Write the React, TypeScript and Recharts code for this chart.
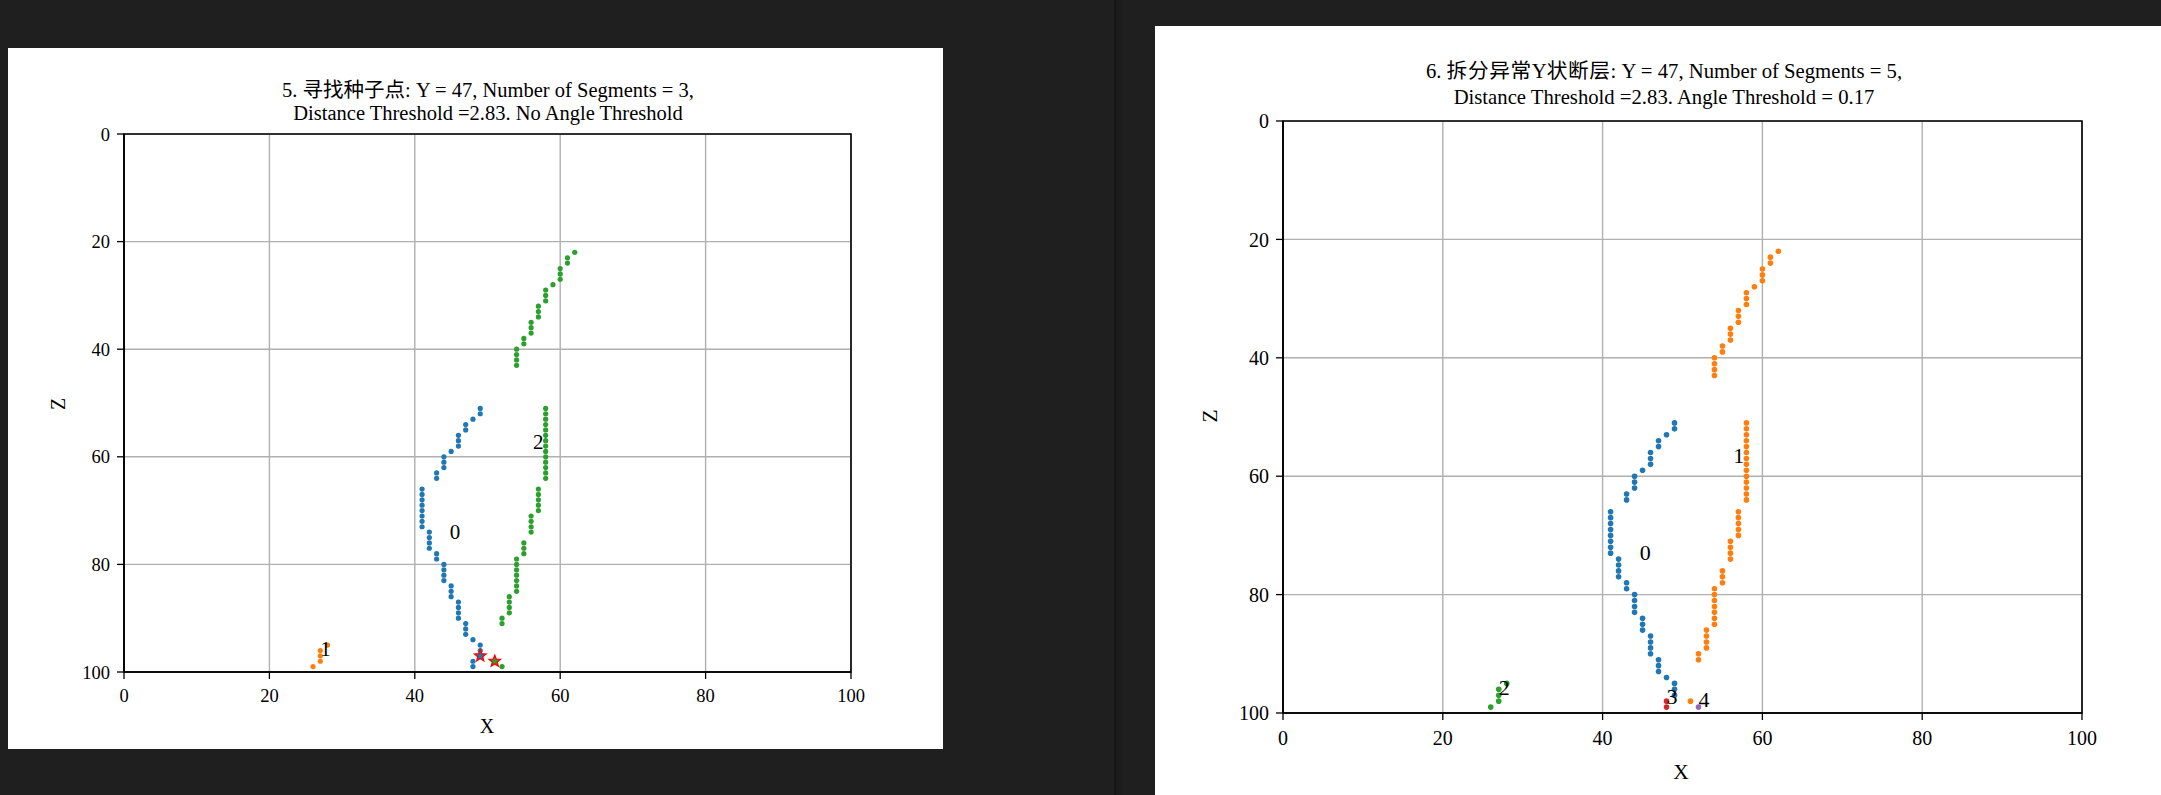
import {
  CartesianGrid,
  ReferenceArea,
  Scatter,
  ScatterChart,
  XAxis,
  YAxis,
} from "recharts";

const ticks = [0, 20, 40, 60, 80, 100];

// [x, z] points of each segment
const seg0: [number, number][] = [
  [49, 51], [49, 52], [48, 53], [47, 54], [47, 55], [46, 56], [46, 57], [46, 58],
  [45, 59], [44, 60], [44, 61], [44, 62], [43, 63], [43, 64],
  [41, 66], [41, 67], [41, 68], [41, 69], [41, 70], [41, 71], [41, 72], [41, 73],
  [42, 74], [42, 75], [42, 76], [42, 77], [43, 78], [43, 79],
  [44, 80], [44, 81], [44, 82], [44, 83], [45, 84], [45, 85], [45, 86],
  [46, 87], [46, 88], [46, 89], [46, 90], [47, 91], [47, 92], [47, 93],
  [48, 94], [49, 95], [49, 96], [49, 97], [48, 98], [48, 99],
];

const seg1: [number, number][] = [
  [26, 99], [27, 98], [27, 97], [27, 96], [28, 95],
];

const seg2: [number, number][] = [
  [62, 22], [61, 23], [61, 24], [60, 25], [60, 26], [60, 27], [59, 28],
  [58, 29], [58, 30], [58, 31], [57, 32], [57, 33], [57, 34],
  [56, 35], [56, 36], [56, 37], [55, 38], [55, 39],
  [54, 40], [54, 41], [54, 42], [54, 43],
  [58, 51], [58, 52], [58, 53], [58, 54], [58, 55], [58, 56], [58, 57],
  [58, 58], [58, 59], [58, 60], [58, 61], [58, 62], [58, 63], [58, 64],
  [57, 66], [57, 67], [57, 68], [57, 69], [57, 70],
  [56, 71], [56, 72], [56, 73], [56, 74],
  [55, 76], [55, 77], [55, 78],
  [54, 79], [54, 80], [54, 81], [54, 82], [54, 83], [54, 84], [54, 85],
  [53, 86], [53, 87], [53, 88], [53, 89], [52, 90], [52, 91],
  [51, 98], [52, 99],
];

// seed points (stars) of panel 5
const seedPoints: [number, number][] = [[49, 97], [51, 98]];
const seedColors = ["#1f77b4", "#2ca02c"];

const C = {
  blue: "#1f77b4",
  orange: "#ff7f0e",
  green: "#2ca02c",
  red: "#d62728",
  purple: "#9467bd",
};

const FONT = "'Liberation Serif', 'Times New Roman', 'Noto Sans CJK SC', serif";

type Series = { label: string; color: string; points: [number, number][] };

const leftSeries: Series[] = [
  { label: "0", color: C.blue, points: seg0 },
  { label: "1", color: C.orange, points: seg1 },
  { label: "2", color: C.green, points: seg2 },
];

const rightSeries: Series[] = [
  { label: "0", color: C.blue, points: seg0.slice(0, -2) },
  { label: "1", color: C.orange, points: seg2.slice(0, -1) },
  { label: "2", color: C.green, points: seg1 },
  { label: "3", color: C.red, points: seg0.slice(-2) },
  { label: "4", color: C.purple, points: seg2.slice(-1) },
];

const toPts = (p: [number, number][]) => p.map(([x, z]) => ({ x, z }));

const mean = (s: Series) => ({
  x: s.points.reduce((a, p) => a + p[0], 0) / s.points.length,
  z: s.points.reduce((a, p) => a + p[1], 0) / s.points.length,
  label: s.label,
});

function starPath(cx: number, cy: number, R: number, r: number) {
  let d = "";
  for (let i = 0; i < 10; i++) {
    const a = -Math.PI / 2 + (i * Math.PI) / 5;
    const rad = i % 2 === 0 ? R : r;
    d += (i === 0 ? "M" : "L") + (cx + rad * Math.cos(a)) + "," + (cy + rad * Math.sin(a));
  }
  return d + "Z";
}

type PanelCfg = {
  w: number;
  h: number;
  margin: { top: number; right: number; bottom: number; left: number };
  tickFont: number;
  labelFont: number;
  tickMargin: number;
  yTickMargin: number;
  r: number;
  series: Series[];
  seeds?: boolean;
};

function Panel({ cfg }: { cfg: PanelCfg }) {
  const axisLine = { stroke: "#000", strokeWidth: 1.6 };
  const tickLine = { stroke: "#000", strokeWidth: 1.3 };
  const tick = { fill: "#000", fontSize: cfg.tickFont, fontFamily: FONT };
  return (
    <ScatterChart width={cfg.w} height={cfg.h} margin={cfg.margin}>
      <CartesianGrid stroke="#b0b0b0" strokeWidth={1.4} />
      <XAxis
        type="number"
        dataKey="x"
        domain={[0, 100]}
        ticks={ticks}
        interval={0}
        height={40}
        tickSize={7}
        tickMargin={cfg.tickMargin}
        axisLine={axisLine}
        tickLine={tickLine}
        tick={tick}
      />
      <YAxis
        type="number"
        dataKey="z"
        domain={[0, 100]}
        ticks={ticks}
        interval={0}
        reversed
        width={60}
        tickSize={7}
        tickMargin={cfg.yTickMargin}
        axisLine={axisLine}
        tickLine={tickLine}
        tick={tick}
      />
      {cfg.series.map((s) => (
        <Scatter
          key={s.label}
          data={toPts(s.points)}
          fill={s.color}
          isAnimationActive={false}
          shape={(p: any) => <circle cx={p.cx} cy={p.cy} r={cfg.r} fill={s.color} />}
        />
      ))}
      {cfg.seeds && (
        <Scatter
          data={seedPoints.map(([x, z], i) => ({ x, z, color: seedColors[i] }))}
          isAnimationActive={false}
          shape={(p: any) => (
            <path
              d={starPath(p.cx, p.cy, 6, 2.6)}
              fill={p.payload.color}
              stroke="#ff0000"
              strokeWidth={1.3}
            />
          )}
        />
      )}
      <Scatter
        data={cfg.series.map(mean)}
        isAnimationActive={false}
        shape={(p: any) => (
          <text x={p.cx} y={p.cy} fontSize={cfg.labelFont} fontFamily={FONT} fill="#000">
            {p.payload.label}
          </text>
        )}
      />
      <ReferenceArea
        x1={0}
        x2={100}
        y1={0}
        y2={100}
        fill="none"
        fillOpacity={0}
        stroke="#000"
        strokeWidth={1.6}
        ifOverflow="visible"
      />
    </ScatterChart>
  );
}

const txt = (
  left: number,
  top: number,
  size: number,
  content: React.ReactNode,
  extra: React.CSSProperties = {}
) => (
  <div
    style={{
      position: "absolute",
      left,
      top,
      fontSize: size,
      fontFamily: FONT,
      color: "#000",
      whiteSpace: "nowrap",
      textAlign: "center",
      transform: "translate(-50%, -50%)",
      ...extra,
    }}
  >
    {content}
  </div>
);

export default function App() {
  return (
    <div
      style={{
        position: "absolute",
        left: 0,
        top: 0,
        width: 2161,
        height: 795,
        background: "#1f1f1f",
        overflow: "hidden",
      }}
    >
      {/* window separator */}
      <div style={{ position: "absolute", left: 1114, top: 0, width: 2, height: 795, background: "#161616" }} />
      <div
        style={{
          position: "absolute",
          left: 1116,
          top: 0,
          width: 8,
          height: 795,
          background: "linear-gradient(to right, #1a1a1a, #1f1f1f)",
        }}
      />

      {/* left figure */}
      <div style={{ position: "absolute", left: 8, top: 48, width: 935, height: 701, background: "#fff" }}>
        <Panel
          cfg={{
            w: 935,
            h: 701,
            margin: { top: 86, right: 92, bottom: 37, left: 56 },
            tickFont: 18.5,
            labelFont: 21,
            tickMargin: 10,
            yTickMargin: 7,
            r: 2.6,
            series: leftSeries,
            seeds: true,
          }}
        />
      </div>
      {txt(
        488,
        101.5,
        20.5,
        <>
          5. 寻找种子点: Y = 47, Number of Segments = 3,
          <br />
          Distance Threshold =2.83. No Angle Threshold
        </>,
        { lineHeight: "23px" }
      )}
      {txt(487, 726, 20, "X")}
      {txt(58, 404, 20, "Z", { transform: "translate(-50%, -50%) rotate(-90deg)" })}

      {/* right figure */}
      <div style={{ position: "absolute", left: 1155, top: 26, width: 1006, height: 769, background: "#fff" }}>
        <Panel
          cfg={{
            w: 1006,
            h: 769,
            margin: { top: 95, right: 79, bottom: 42, left: 68 },
            tickFont: 20,
            labelFont: 22,
            tickMargin: 10.5,
            yTickMargin: 7,
            r: 2.8,
            series: rightSeries,
          }}
        />
      </div>
      {txt(
        1664,
        84,
        20.7,
        <>
          6. <span style={{ letterSpacing: 0.6 }}>拆分异常</span>Y
          <span style={{ letterSpacing: 0.6 }}>状断层</span>: Y = 47, Number of Segments = 5,
          <br />
          Distance Threshold =2.83. Angle Threshold = 0.17
        </>,
        { lineHeight: "26px" }
      )}
      {txt(1681, 772, 21.5, "X")}
      {txt(1210, 416, 21.5, "Z", { transform: "translate(-50%, -50%) rotate(-90deg)" })}
    </div>
  );
}
